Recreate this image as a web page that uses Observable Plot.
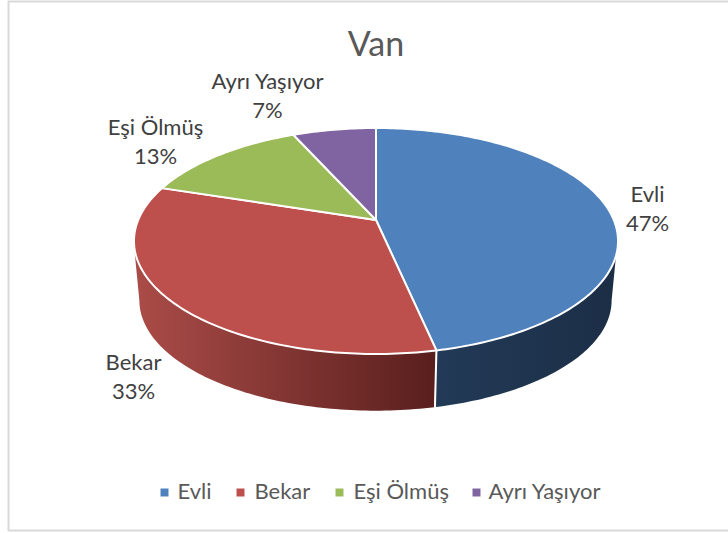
<!DOCTYPE html>
<html>
<head>
<meta charset="utf-8">
<style>html,body{margin:0;padding:0;background:#fff;overflow:hidden}svg{display:block}</style>
<script src="https://cdn.jsdelivr.net/npm/d3@7"></script>
<script src="https://cdn.jsdelivr.net/npm/@observablehq/plot@0.6"></script>
</head>
<body>
<div id="chart"></div>
<script>
// data
const categories = ["Evli", "Bekar", "Eşi Ölmüş", "Ayrı Yaşıyor"];
const values = [7, 5, 2, 1];
const colors = ["#4f81bd", "#bd4f4c", "#9bbb59", "#8064a2"];
const chartTitle = "Van";

// layout of the labels and legend
const labelX = [647, 133, 155, 267];
const labelY = [207, 375, 140, 94];
const legendSwatchX = [164, 240, 339, 476];
const legendTextX = [177, 254, 353, 488];
const legendY = 491;

// projection of the tilted pie
const K = 0.1858;
const topFace = {cx: 375.5, cy: 219.5, A: 109.1, B: 237.8};
const baseFace = {cx: 375.5, cy: 280, A: 106.4, B: 232};
const project = (face, deg) => {
  const t = deg * Math.PI / 180, u = Math.sin(t), v = -Math.cos(t), s = 1 / (1 - K * v);
  return [face.cx + face.B * u * s, face.cy + face.A * v * s];
};
// where the rim is widest: the wall is visible between these two angles
const silhouette = Math.acos(-K) * 180 / Math.PI;

const total = d3.sum(values);
const cumulative = d3.cumsum(values);
const ends = Array.from(cumulative, c => c / total * 360);
const starts = ends.map((e, i) => i ? ends[i - 1] : 0);

// top faces: apex -> rim -> apex
const topPoints = categories.flatMap((name, i) => {
  const apex = {name, x: topFace.cx, y: topFace.cy};
  const rim = d3.range(starts[i], ends[i], 1).concat(ends[i]).map(a => {
    const [x, y] = project(topFace, a);
    return {name, x, y};
  });
  return [apex, ...rim, apex];
});

// side walls: ribbon between top rim and base rim
const ribbon = (from, to) => d3.range(from, to, 1).concat(to).map(a => {
  const [x1, y1] = project(topFace, a), [x2, y2] = project(baseFace, a);
  return {x1, y1, x2, y2};
});
const sideBlue = ribbon(silhouette, ends[0]);
const sideRed = ribbon(ends[0], 360 - silhouette);
const seam = ribbon(ends[0], ends[0]).slice(0, 1);

const gradients = () => {
  const defs = d3.create("svg:defs");
  const make = (id, x1, x2, c1, c2) => {
    const g = defs.append("linearGradient").attr("id", id).attr("gradientUnits", "userSpaceOnUse")
      .attr("x1", x1).attr("x2", x2).attr("y1", 0).attr("y2", 0);
    g.append("stop").attr("offset", 0).attr("stop-color", c1);
    g.append("stop").attr("offset", 1).attr("stop-color", c2);
  };
  make("sideRed", 134, 436, "#ab4c48", "#591f1d");
  make("sideBlue", 436, 618, "#223a57", "#1c2e46");
  return defs.node();
};

const border = [{x: 728, y: 1}, {x: 8, y: 1}, {x: 8, y: 530}, {x: 728, y: 530}];
const font = "Lato, 'Open Sans', sans-serif";
const pct = v => Math.round(v / total * 100) + "%";

const chart = Plot.plot({
  width: 728,
  height: 533,
  margin: 0,
  x: {domain: [0, 728], range: [0, 728], axis: null},
  y: {domain: [0, 533], range: [0, 533], axis: null},
  color: {domain: categories, range: colors},
  style: {background: "#fff", fontFamily: font},
  marks: [
    gradients,
    Plot.line(border, {x: "x", y: "y", stroke: "#d9d9d9", strokeWidth: 2}),
    Plot.area(sideBlue, {x1: "x1", y1: "y1", x2: "x2", y2: "y2", fill: "url(#sideBlue)"}),
    Plot.area(sideRed, {x1: "x1", y1: "y1", x2: "x2", y2: "y2", fill: "url(#sideRed)"}),
    Plot.link(seam, {x1: "x1", y1: "y1", x2: "x2", y2: "y2", stroke: "#fff", strokeWidth: 2}),
    Plot.line(topPoints, {x: "x", y: "y", z: "name", fill: "name", stroke: "#fff", strokeWidth: 2, strokeLinejoin: "round"}),
    Plot.text(categories, {
      x: (d, i) => labelX[i], y: (d, i) => labelY[i],
      text: (d, i) => `${d}\n${pct(values[i])}`,
      fontSize: 22, lineHeight: 1.3, fill: "#404040", textAnchor: "middle", lineAnchor: "middle"
    }),
    Plot.text([chartTitle], {x: () => 375.5, y: () => 45, text: d => d, fontSize: 34, fill: "#595959", textAnchor: "middle", lineAnchor: "middle"}),
    Plot.dot(categories, {x: (d, i) => legendSwatchX[i], y: () => legendY + 1, symbol: "square", r: 4.5, fill: d => d, stroke: "none"}),
    Plot.text(categories, {x: (d, i) => legendTextX[i], y: () => legendY, text: d => d, fontSize: 22, fill: "#595959", textAnchor: "start", lineAnchor: "middle"})
  ]
});
document.getElementById("chart").append(chart);
</script>
</body>
</html>
